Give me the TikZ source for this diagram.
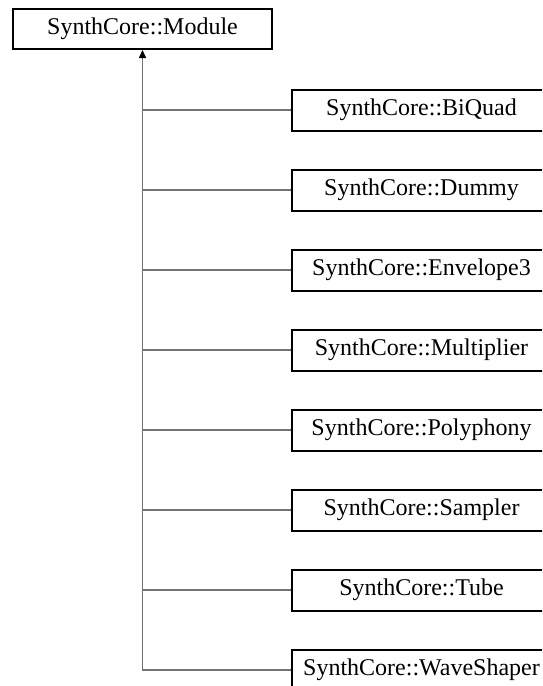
\documentclass[tikz,border=0pt]{standalone}
\usepackage{fontspec}
\setmainfont{Liberation Serif}
\usetikzlibrary{arrows.meta, positioning}

\begin{document}
\begin{tikzpicture}[x=1pt, y=1pt, node distance=37pt,
  class node/.style={rectangle, draw=black, line width=2pt, fill=white,
    minimum width=259pt, minimum height=40pt, inner sep=0pt,
    font=\fontsize{24}{28}\selectfont},
  link/.style={draw=gray!90!black, line width=1.5pt}]
  \useasboundingbox (0,0) rectangle (542,-686);
  \clip (0,0) rectangle (542,-686);

  \node[class node] (module) at (142.5,-29) {SynthCore::Module};

  \node[class node, minimum height=41pt] (biquad) at (421.5,-110) {SynthCore::BiQuad};
  \node[class node, minimum height=41pt, below=of biquad] (dummy) {SynthCore::Dummy};
  \node[class node, minimum height=41pt, below=of dummy] (envelope) {SynthCore::Envelope3};
  \node[class node, minimum height=41pt, below=of envelope] (multiplier) {SynthCore::Multiplier};
  \node[class node, minimum height=41pt, below=of multiplier] (polyphony) {SynthCore::Polyphony};
  \node[class node, minimum height=41pt, below=of polyphony] (sampler) {SynthCore::Sampler};
  \node[class node, minimum height=41pt, below=of sampler] (tube) {SynthCore::Tube};
  \node[class node, minimum height=41pt, below=of tube] (waveshaper) {SynthCore::WaveShaper};

  % trunk up to the base class
  \draw[link, -{Triangle[length=8pt, width=7pt, black]}] (waveshaper.west) -| (module.south);
  \draw[link] (biquad.west) -- (biquad.west -| module.south);
  \draw[link] (dummy.west) -- (dummy.west -| module.south);
  \draw[link] (envelope.west) -- (envelope.west -| module.south);
  \draw[link] (multiplier.west) -- (multiplier.west -| module.south);
  \draw[link] (polyphony.west) -- (polyphony.west -| module.south);
  \draw[link] (sampler.west) -- (sampler.west -| module.south);
  \draw[link] (tube.west) -- (tube.west -| module.south);
\end{tikzpicture}
\end{document}
